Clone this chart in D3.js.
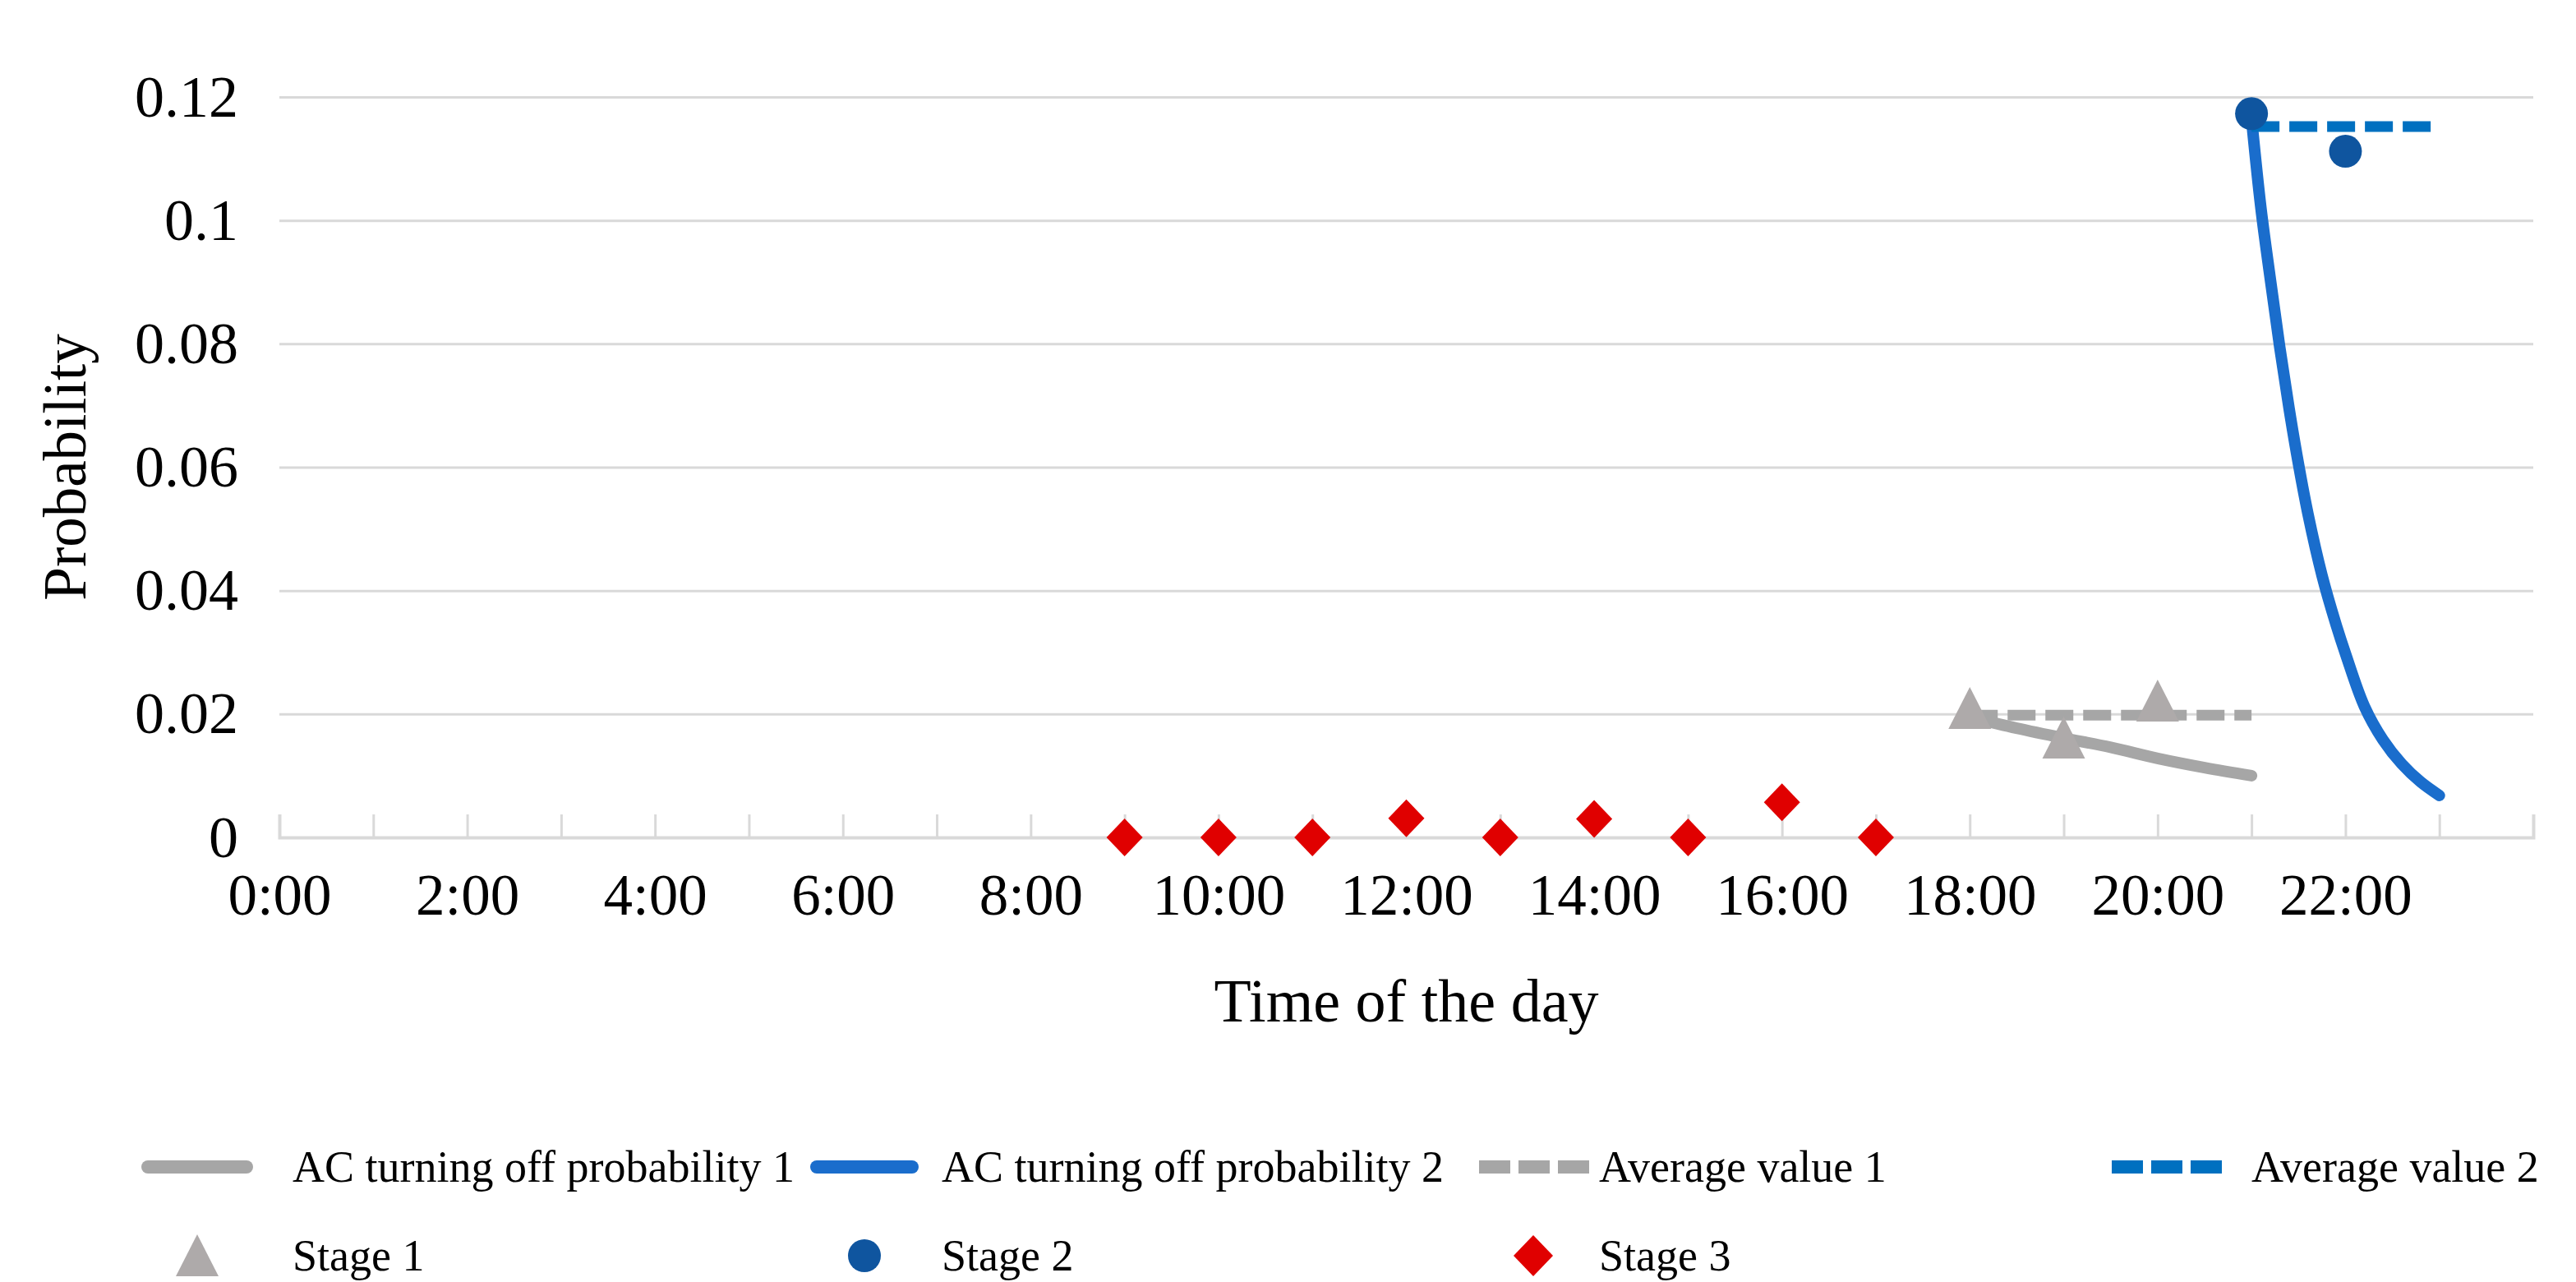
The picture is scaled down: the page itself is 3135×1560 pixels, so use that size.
<!DOCTYPE html>
<html>
<head>
<meta charset="utf-8">
<script src="https://cdn.jsdelivr.net/npm/d3@7"></script>
<style>
  body { margin: 0; background: #fff; }
  svg { font-family: "Liberation Serif", "Times New Roman", serif; }
</style>
</head>
<body>
<svg width="3135" height="1560"></svg>
<script>
// values
var tickHours = d3.range(0, 25);
var tickLabels = ['0:00', '2:00', '4:00', '6:00', '8:00', '10:00', '12:00',
                  '14:00', '16:00', '18:00', '20:00', '22:00'];
var yTicks = [0, 0.02, 0.04, 0.06, 0.08, 0.1, 0.12];

var stage1Hours = [18, 19, 20];
var stage1Values = [0.0209, 0.0161, 0.0221];
var stage2Hours = [21, 22];
var stage2Values = [0.1173, 0.1112];
var stage3Hours = [9, 10, 11, 12, 13, 14, 15, 16, 17];
var stage3Values = [0, 0, 0, 0.0031, 0, 0.003, 0, 0.0057, 0];

var prob1Hours = [18, 18.5, 19, 19.5, 20, 20.5, 21];
var prob1Values = [0.0195, 0.0177, 0.0161, 0.0146, 0.0128, 0.0113, 0.0100];
var prob2Hours = [21, 21.1, 21.2, 21.3, 21.4, 21.5, 21.6, 21.75, 21.9, 22, 22.2, 22.4, 22.6, 22.8, 23];
var prob2Values = [0.1165, 0.102, 0.0905, 0.0795, 0.0695, 0.0605, 0.0525, 0.0425, 0.0345, 0.0298,
                   0.0213, 0.0158, 0.0119, 0.0090, 0.0068];

var avg1Hours = [18, 21];
var avg1Values = [0.0198, 0.0198];
var avg2Hours = [21, 23];
var avg2Values = [0.1152, 0.1152];

var legendNames = ['AC turning off probability 1', 'AC turning off probability 2',
                   'Average value 1', 'Average value 2', 'Stage 1', 'Stage 2', 'Stage 3'];

var grey = '#a6a6a6', triGrey = '#aeaaaa', blue = '#1a6dcc', avgBlue = '#0070c0',
    dotBlue = '#0f559f', red = '#e00000';

var svg = d3.select('svg');
var plotLeft = 340, plotRight = 3083, plotTop = 118, plotBottom = 1019;

var x = d3.scaleLinear().domain([0, 24]).range([plotLeft, plotRight]);
var y = d3.scaleLinear().domain([0, 0.12]).range([plotBottom, plotTop]);

// horizontal grid + y labels
var yAxis = svg.append('g')
    .attr('transform', 'translate(' + plotLeft + ',0)')
    .call(d3.axisLeft(y).tickValues(yTicks).tickSize(-(plotRight - plotLeft)).tickPadding(50)
        .tickFormat(function(d) { return String(+d.toFixed(2)); }));
yAxis.select('.domain').remove();
yAxis.selectAll('.tick line').attr('stroke', '#d9d9d9').attr('stroke-width', 3);
yAxis.selectAll('.tick text').attr('font-size', 72).attr('fill', '#000')
    .attr('font-family', '"Liberation Serif", serif');

// x axis: hour ticks pointing up, labels every 2 hours
var xAxis = svg.append('g')
    .attr('transform', 'translate(0,' + plotBottom + ')')
    .call(d3.axisBottom(x).tickValues(tickHours).tickSize(-28).tickPadding(0)
        .tickFormat(function(h) { return (h % 2 === 0 && h < 24) ? tickLabels[h / 2] : ''; }));
xAxis.select('.domain').attr('stroke', '#d9d9d9').attr('stroke-width', 4);
xAxis.selectAll('.tick line').attr('stroke', '#d9d9d9').attr('stroke-width', 3);
xAxis.selectAll('.tick text').attr('font-size', 71).attr('fill', '#000')
    .attr('font-family', '"Liberation Serif", serif')
    .attr('y', 94).attr('dy', null);

// axis titles
svg.append('text')
    .attr('transform', 'translate(104,' + ((plotTop + plotBottom) / 2) + ') rotate(-90)')
    .attr('text-anchor', 'middle').attr('font-size', 73).text('Probability');
svg.append('text')
    .attr('x', (plotLeft + plotRight) / 2).attr('y', 1243)
    .attr('text-anchor', 'middle').attr('font-size', 74).text('Time of the day');

function pairs(hs, vs) { return hs.map(function(h, i) { return [h, vs[i]]; }); }

var line = d3.line().x(function(d) { return x(d[0]); }).y(function(d) { return y(d[1]); });
var smooth = d3.line().curve(d3.curveCatmullRom.alpha(0.5))
    .x(function(d) { return x(d[0]); }).y(function(d) { return y(d[1]); });

var plot = svg.append('g');

plot.append('path').datum(pairs(prob1Hours, prob1Values))
    .attr('d', smooth).attr('fill', 'none').attr('stroke', grey)
    .attr('stroke-width', 14).attr('stroke-linecap', 'round');
plot.append('path').datum(pairs(prob2Hours, prob2Values))
    .attr('d', smooth).attr('fill', 'none').attr('stroke', blue)
    .attr('stroke-width', 14).attr('stroke-linecap', 'round');
plot.append('path').datum(pairs(avg1Hours, avg1Values))
    .attr('d', line).attr('fill', 'none').attr('stroke', grey)
    .attr('stroke-width', 13).attr('stroke-dasharray', '34,12');
plot.append('path').datum(pairs(avg2Hours, avg2Values))
    .attr('d', line).attr('fill', 'none').attr('stroke', avgBlue)
    .attr('stroke-width', 13).attr('stroke-dasharray', '34,12');

var triangle = 'M0,-26L26,25L-26,25Z';
var diamond = 'M0,-23L22,0L0,23L-22,0Z';

plot.selectAll('.s1').data(pairs(stage1Hours, stage1Values)).enter()
    .append('path').attr('class', 's1').attr('d', triangle).attr('fill', triGrey)
    .attr('transform', function(d) { return 'translate(' + x(d[0]) + ',' + y(d[1]) + ')'; });
plot.selectAll('.s2').data(pairs(stage2Hours, stage2Values)).enter()
    .append('circle').attr('class', 's2').attr('r', 20).attr('fill', dotBlue)
    .attr('cx', function(d) { return x(d[0]); }).attr('cy', function(d) { return y(d[1]); });
plot.selectAll('.s3').data(pairs(stage3Hours, stage3Values)).enter()
    .append('path').attr('class', 's3').attr('d', diamond).attr('fill', red)
    .attr('transform', function(d) { return 'translate(' + x(d[0]) + ',' + y(d[1]) + ')'; });

// legend
var legend = svg.append('g').attr('font-size', 54);
var row1 = 1420, row2 = 1528;
var cols = [356, 1146, 1946, 2740];
var symX = [[180, 300], [994, 1110], [1800, 1934], [2570, 2710]];
var lineStyles = [[grey, null], [blue, null], [grey, '34,12'], [avgBlue, '34,12']];

for (var i = 0; i < 4; i++) {
    legend.append('line')
        .attr('x1', symX[i][0]).attr('x2', symX[i][1]).attr('y1', row1).attr('y2', row1)
        .attr('stroke', lineStyles[i][0]).attr('stroke-width', 16)
        .attr('stroke-linecap', lineStyles[i][1] ? 'butt' : 'round')
        .attr('stroke-dasharray', lineStyles[i][1] ? '38,10' : null);
    legend.append('text').attr('x', cols[i]).attr('y', row1 + 18).text(legendNames[i]);
}
legend.append('path').attr('d', triangle).attr('fill', triGrey)
    .attr('transform', 'translate(240,' + row2 + ')');
legend.append('circle').attr('r', 20).attr('fill', dotBlue).attr('cx', 1052).attr('cy', row2);
legend.append('path').attr('d', 'M0,-25L24,0L0,25L-24,0Z').attr('fill', red)
    .attr('transform', 'translate(1866,' + row2 + ')');
[0, 1, 2].forEach(function(k) {
    legend.append('text').attr('x', cols[k]).attr('y', row2 + 18).text(legendNames[4 + k]);
});
</script>
</body>
</html>
